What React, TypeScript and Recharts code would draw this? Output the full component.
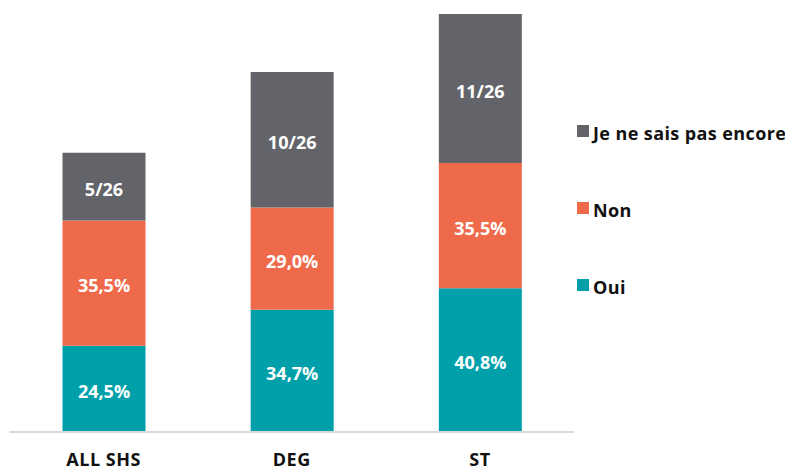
import { BarChart, Bar, XAxis, YAxis, Legend, LabelList } from 'recharts';

const CATEGORIES = ['ALL SHS', 'DEG', 'ST'];
const OUI = [24.5, 34.7, 40.8];
const NON = [35.5, 29.0, 35.5];
const UNDECIDED_COUNTS = [5, 10, 11];
const RESPONDENTS = 26;

const COLORS = {
  oui: '#00a0ab',
  non: '#ee6a4a',
  undecided: '#636469',
};

const LEGEND_ITEMS = [
  { label: 'Je ne sais pas encore', color: COLORS.undecided },
  { label: 'Non', color: COLORS.non },
  { label: 'Oui', color: COLORS.oui },
];

const FONT = '"Open Sans", Lato, sans-serif';

const fmtPct = (v: number) => v.toFixed(1).replace('.', ',') + '%';

const data = CATEGORIES.map((name, i) => ({
  name,
  oui: OUI[i],
  non: NON[i],
  undecided: (UNDECIDED_COUNTS[i] / RESPONDENTS) * 100,
  undecidedLabel: `${UNDECIDED_COUNTS[i]}/${RESPONDENTS}`,
}));

// baselines of the legend rows
const LEGEND_BASELINES = [140, 216.5, 294];

function SideLegend() {
  return (
    <div style={{ position: 'relative', width: 0, height: 0, fontFamily: FONT }}>
      {LEGEND_ITEMS.map((item, i) => (
        <div key={item.label}>
          <span
            style={{
              position: 'absolute',
              left: 577,
              top: LEGEND_BASELINES[i] - 15,
              width: 12,
              height: 12,
              background: item.color,
            }}
          />
          <span
            style={{
              position: 'absolute',
              left: 593,
              top: LEGEND_BASELINES[i] - 17,
              fontSize: 18,
              lineHeight: '20px',
              fontWeight: 700,
              letterSpacing: 0.4,
              color: '#111',
              whiteSpace: 'nowrap',
            }}
          >
            {item.label}
          </span>
        </div>
      ))}
    </div>
  );
}

const labelStyle = {
  fill: '#ffffff',
  fontSize: 18,
  fontWeight: 700,
  fontFamily: FONT,
};

export default function App() {
  return (
    <div style={{ position: 'absolute', left: 0, top: 0, background: '#fff' }}>
      <BarChart
        width={785}
        height={468}
        data={data}
        margin={{ top: 9, right: 211, bottom: 0, left: 9.5 }}
      >
        <XAxis
          dataKey="name"
          height={36}
          axisLine={{ stroke: '#d9d9d9', strokeWidth: 2 }}
          tickLine={false}
          tickMargin={15}
          tick={{ fill: '#111', fontSize: 18, fontWeight: 700, fontFamily: FONT, letterSpacing: 0.5 }}
        />
        <YAxis hide domain={[0, 120]} />
        <Legend
          content={() => <SideLegend />}
          wrapperStyle={{ top: 0, left: 0, bottom: 'auto', width: 0, height: 0 }}
        />
        <Bar dataKey="oui" stackId="a" fill={COLORS.oui} barSize={83} isAnimationActive={false}>
          <LabelList dataKey="oui" position="center" dy={3} formatter={(v: number) => fmtPct(v)} style={labelStyle} />
        </Bar>
        <Bar dataKey="non" stackId="a" fill={COLORS.non} barSize={83} isAnimationActive={false}>
          <LabelList dataKey="non" position="center" dy={3} formatter={(v: number) => fmtPct(v)} style={labelStyle} />
        </Bar>
        <Bar dataKey="undecided" stackId="a" fill={COLORS.undecided} barSize={83} isAnimationActive={false}>
          <LabelList dataKey="undecidedLabel" position="center" dy={3} style={labelStyle} />
        </Bar>
      </BarChart>
    </div>
  );
}
